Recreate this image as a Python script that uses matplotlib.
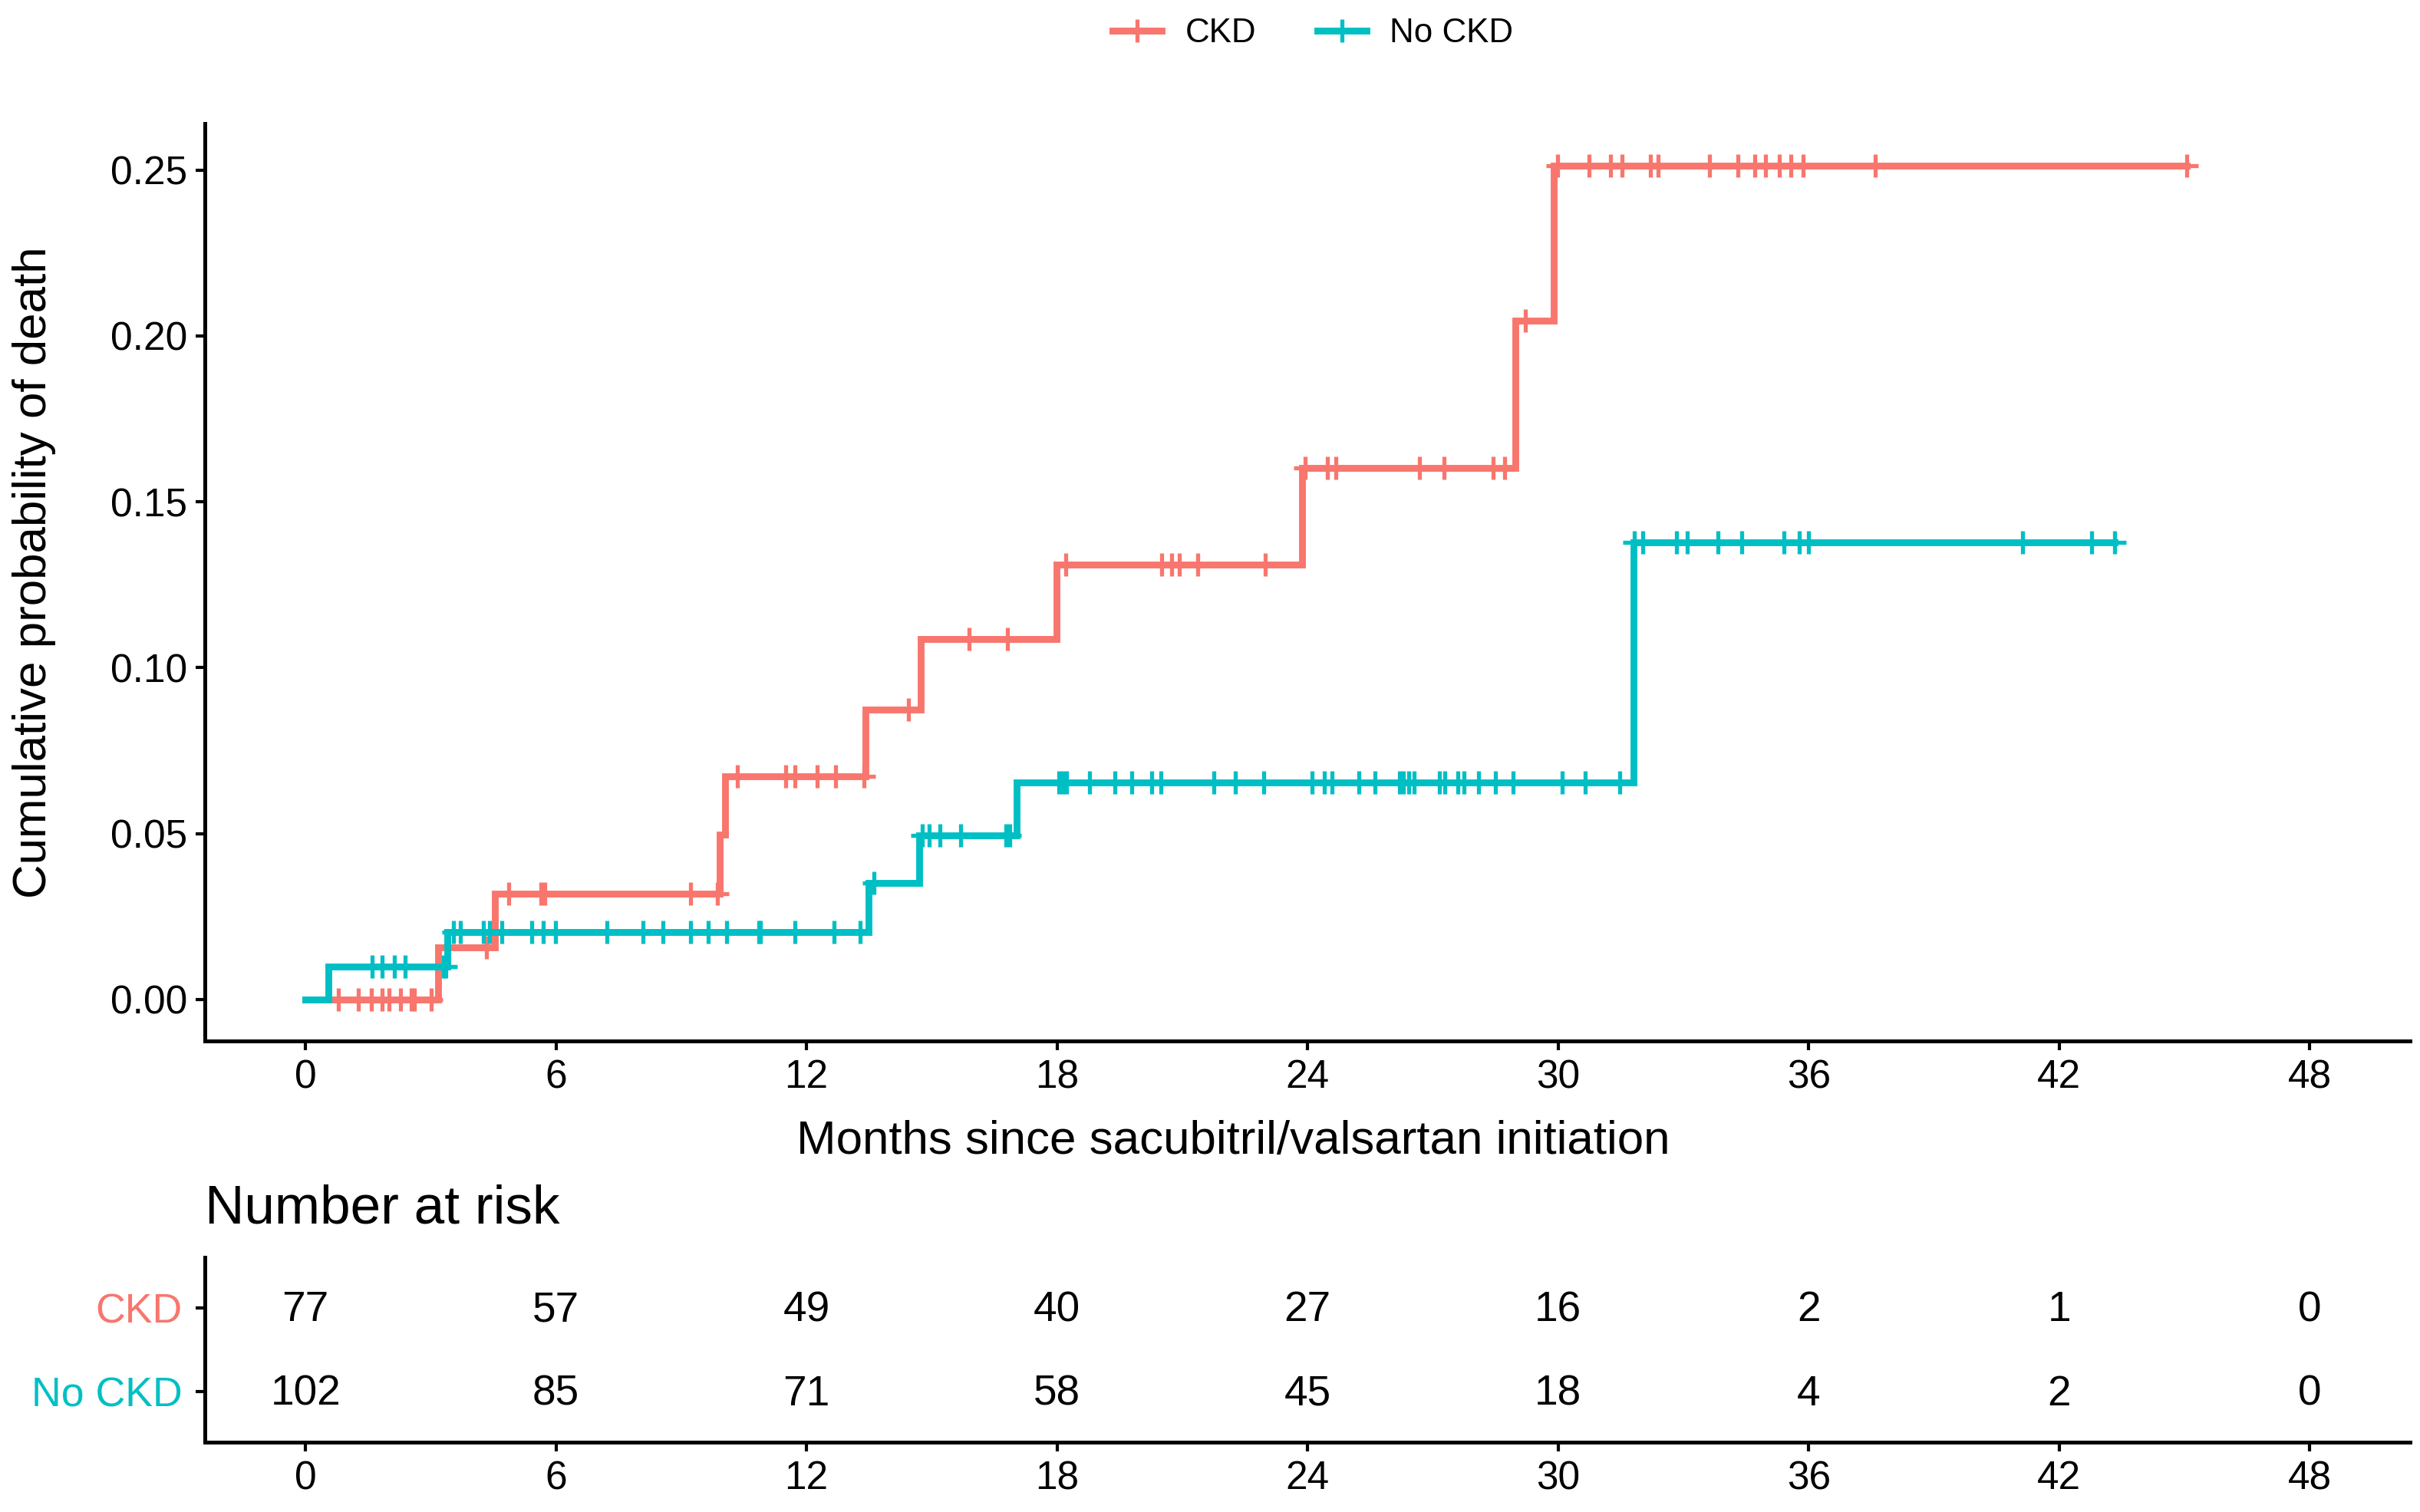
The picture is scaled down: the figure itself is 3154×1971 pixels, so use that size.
import numpy as np
import matplotlib
matplotlib.use('Agg')
from matplotlib import pyplot as plt
from matplotlib.lines import Line2D

plt.rcParams['font.family'] = ['Liberation Sans', 'DejaVu Sans']

groups = ['CKD', 'No CKD']
colors = ['#F8766D', '#00BFC4']

# step curves: event times (months) and cumulative probability after each event
ckd_times = [0, 3.18, 4.53, 9.92, 10.05, 13.41, 14.73, 17.99, 23.86, 28.98, 29.89]
ckd_prob = [0, 0.0157, 0.0319, 0.0497, 0.0673, 0.0874, 0.1086, 0.1310, 0.1603, 0.2046, 0.2514]
ckd_end = 45.05
ckd_censor = [0.78, 1.27, 1.57, 1.84, 2.01, 2.27, 2.54, 2.60, 3.01, 3.42, 4.33, 4.86, 5.64,
              5.73, 9.22, 9.86, 10.35, 11.5, 11.73, 12.26, 12.69, 13.37, 14.44, 15.9, 16.81,
              18.2, 20.5, 20.75, 20.93, 21.37, 22.98, 23.94, 24.47, 24.68, 26.68, 27.27,
              28.45, 28.72, 29.21, 29.98, 30.73, 31.26, 31.52, 32.2, 32.4, 33.63, 34.3,
              34.7, 34.96, 35.3, 35.57, 35.87, 37.6, 45.05]

nockd_times = [0, 0.55, 3.39, 13.49, 14.70, 17.03, 31.8]
nockd_prob = [0, 0.0099, 0.0203, 0.0352, 0.0495, 0.0655, 0.1377]
nockd_end = 43.32
nockd_censor = [1.6, 1.84, 2.13, 2.39, 3.30, 3.36, 3.54, 3.71, 4.27, 4.41, 4.7, 5.41, 5.70,
                5.99, 7.22, 8.08, 8.57, 9.22, 9.65, 10.09, 10.85, 10.9, 11.73, 12.65, 13.28,
                13.61, 14.78, 14.94, 15.2, 15.69, 16.78, 16.87, 18.04, 18.13, 18.22, 18.77,
                19.38, 19.79, 20.27, 20.48, 21.76, 22.26, 22.95, 24.1, 24.4, 24.58, 25.23,
                25.62, 26.2, 26.3, 26.42, 26.55, 27.15, 27.28, 27.59, 27.75, 28.1, 28.5,
                28.92, 30.1, 30.65, 31.48, 31.83, 32.03, 32.84, 33.09, 33.82, 34.4, 35.4,
                35.77, 36.0, 41.12, 42.77, 43.32]

risk_times = [0, 6, 12, 18, 24, 30, 36, 42, 48]
ckd_risk = [77, 57, 49, 40, 27, 16, 2, 1, 0]
nockd_risk = [102, 85, 71, 58, 45, 18, 4, 2, 0]


def value_at(times, prob, t):
    idx = np.searchsorted(times, t, side='right') - 1
    return np.asarray(prob)[idx]


fig = plt.figure(figsize=(15.77, 9.855), dpi=200)
ax = fig.add_axes([0.0848, 0.3113, 0.9111, 0.607])
tab = fig.add_axes([0.0848, 0.0461, 0.9111, 0.1223])

curves = [(ckd_times, ckd_prob, ckd_end, ckd_censor),
          (nockd_times, nockd_prob, nockd_end, nockd_censor)]
for (times, prob, end, cens), col in zip(curves, colors):
    xs = list(times) + [end]
    ys = list(prob) + [prob[-1]]
    ax.step(xs, ys, where='post', color=col, lw=3.2, solid_joinstyle='miter')
    ax.plot(cens, value_at(times, prob, cens), ls='none', marker='+', ms=11,
            mew=1.9, color=col)

ax.set_xlim(-2.4, 50.4)
ax.set_ylim(-0.0126, 0.264)
ax.set_xticks(risk_times)
ax.set_yticks([0, 0.05, 0.10, 0.15, 0.20, 0.25])
ax.set_yticklabels(['0.00', '0.05', '0.10', '0.15', '0.20', '0.25'])
for s in ['top', 'right']:
    ax.spines[s].set_visible(False)
for s in ['left', 'bottom']:
    ax.spines[s].set_linewidth(1.8)
ax.tick_params(width=1.5, length=4.3, labelsize=18.5, colors='black', pad=4)

fig.text(0.5095, 0.245, 'Months since sacubitril/valsartan initiation', fontsize=22.3,
         ha='center', va='center')
fig.text(0.014, 0.6215, 'Cumulative probability of death', fontsize=22.3, rotation=90,
         ha='center', va='center')

handles = [Line2D([], [], color=c, lw=3.2, marker='+', ms=11, mew=1.9) for c in colors]
fig.legend(handles, groups, loc='center', bbox_to_anchor=(0.5426, 0.9777), ncol=2,
           frameon=False, fontsize=15.8, handlelength=1.46, handletextpad=0.7,
           columnspacing=1.8)

# number at risk table
rows = [ckd_risk, nockd_risk]
row_y = [1, 0]
for vals, yy in zip(rows, row_y):
    for t, v in zip(risk_times, vals):
        tab.text(t, yy - 0.03, str(v), ha='center', va='center', fontsize=19.8)
tab.set_xlim(-2.4, 50.4)
tab.set_ylim(-0.6, 1.6)
tab.set_xticks(risk_times)
tab.set_yticks(row_y)
tab.set_yticklabels(groups)
for lab, col in zip(tab.get_yticklabels(), colors):
    lab.set_color(col)
tab.tick_params(axis='y', width=1.5, length=4.3, labelsize=19.3, pad=6.5)
tab.tick_params(axis='x', width=1.5, length=4.3, labelsize=18.5, pad=4)
for s in ['top', 'right']:
    tab.spines[s].set_visible(False)
for s in ['left', 'bottom']:
    tab.spines[s].set_linewidth(1.8)
fig.text(0.0848, 0.2, 'Number at risk', fontsize=25.6, ha='left', va='center')

fig.savefig('out.png', dpi=200)
